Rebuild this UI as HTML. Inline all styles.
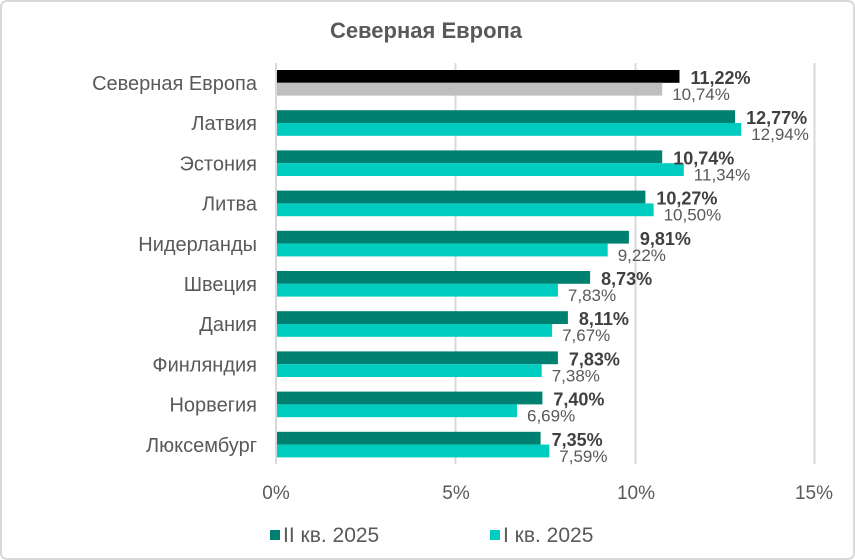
<!DOCTYPE html>
<html><head><meta charset="utf-8"><style>
html,body{margin:0;padding:0;background:#fff}
svg{display:block;font-family:"Liberation Sans",sans-serif}
.c{font-size:20px;fill:#595959;text-anchor:end}
.a{font-size:18px;font-weight:bold;fill:#404040}
.b{font-size:17px;fill:#595959}
</style></head><body>
<svg width="855" height="560" xmlns="http://www.w3.org/2000/svg">
<rect x="1" y="1" width="853" height="558" rx="6" fill="#fff" stroke="#d9d9d9" stroke-width="2"/>
<text x="426" y="38" text-anchor="middle" font-size="22" font-weight="bold" fill="#595959">Северная Европа</text>
<g stroke="#d9d9d9" stroke-width="2">
<line x1="455.5" y1="63" x2="455.5" y2="464"/>
<line x1="635.5" y1="63" x2="635.5" y2="464"/>
<line x1="814.5" y1="63" x2="814.5" y2="464"/>
<line x1="276" y1="63" x2="276" y2="464"/>
</g>
<g>
<rect x="277" y="70" width="402.5" height="12.8" fill="#000"/><rect x="277" y="82.8" width="385.2" height="12.8" fill="#bfbfbf"/>
<rect x="277" y="110.2" width="458.1" height="12.8" fill="#008070"/><rect x="277" y="123" width="464.2" height="12.8" fill="#00cdbf"/>
<rect x="277" y="150.4" width="385.2" height="12.8" fill="#008070"/><rect x="277" y="163.2" width="406.8" height="12.8" fill="#00cdbf"/>
<rect x="277" y="190.6" width="368.4" height="12.8" fill="#008070"/><rect x="277" y="203.4" width="376.6" height="12.8" fill="#00cdbf"/>
<rect x="277" y="230.8" width="351.9" height="12.8" fill="#008070"/><rect x="277" y="243.6" width="330.7" height="12.8" fill="#00cdbf"/>
<rect x="277" y="271" width="313.1" height="12.8" fill="#008070"/><rect x="277" y="283.8" width="280.9" height="12.8" fill="#00cdbf"/>
<rect x="277" y="311.2" width="290.9" height="12.8" fill="#008070"/><rect x="277" y="324" width="275.1" height="12.8" fill="#00cdbf"/>
<rect x="277" y="351.4" width="280.9" height="12.8" fill="#008070"/><rect x="277" y="364.2" width="264.7" height="12.8" fill="#00cdbf"/>
<rect x="277" y="391.6" width="265.4" height="12.8" fill="#008070"/><rect x="277" y="404.4" width="240" height="12.8" fill="#00cdbf"/>
<rect x="277" y="431.8" width="263.6" height="12.8" fill="#008070"/><rect x="277" y="444.6" width="272.3" height="12.8" fill="#00cdbf"/>
</g>
<g>
<text class="c" x="257" y="90">Северная Европа</text>
<text class="c" x="257" y="130.2">Латвия</text>
<text class="c" x="257" y="170.4">Эстония</text>
<text class="c" x="257" y="210.6">Литва</text>
<text class="c" x="257" y="250.8">Нидерланды</text>
<text class="c" x="257" y="291">Швеция</text>
<text class="c" x="257" y="331.2">Дания</text>
<text class="c" x="257" y="371.4">Финляндия</text>
<text class="c" x="257" y="411.6">Норвегия</text>
<text class="c" x="257" y="451.8">Люксембург</text>
</g>
<g>
<text class="a" x="690.5" y="84">11,22%</text><text class="b" x="672.2" y="100">10,74%</text>
<text class="a" x="746.1" y="124.2">12,77%</text><text class="b" x="751.2" y="140.2">12,94%</text>
<text class="a" x="673.2" y="164.4">10,74%</text><text class="b" x="693.8" y="180.4">11,34%</text>
<text class="a" x="656.4" y="204.6">10,27%</text><text class="b" x="663.6" y="220.6">10,50%</text>
<text class="a" x="639.9" y="244.8">9,81%</text><text class="b" x="617.7" y="260.8">9,22%</text>
<text class="a" x="601.1" y="285">8,73%</text><text class="b" x="567.9" y="301">7,83%</text>
<text class="a" x="578.9" y="325.2">8,11%</text><text class="b" x="562.1" y="341.2">7,67%</text>
<text class="a" x="568.9" y="365.4">7,83%</text><text class="b" x="551.7" y="381.4">7,38%</text>
<text class="a" x="553.4" y="405.6">7,40%</text><text class="b" x="527" y="421.6">6,69%</text>
<text class="a" x="551.6" y="445.8">7,35%</text><text class="b" x="559.3" y="461.8">7,59%</text>
</g>
<g font-size="19" fill="#595959" text-anchor="middle">
<text x="276" y="499">0%</text><text x="456" y="499">5%</text><text x="636" y="499">10%</text><text x="814" y="499">15%</text>
</g>
<rect x="270" y="530" width="10" height="10" fill="#008070"/>
<text x="283" y="542" font-size="21" fill="#595959">II кв. 2025</text>
<rect x="490" y="530" width="10" height="10" fill="#00cdbf"/>
<text x="503" y="542" font-size="21" fill="#595959">I кв. 2025</text>
</svg>
</body></html>
